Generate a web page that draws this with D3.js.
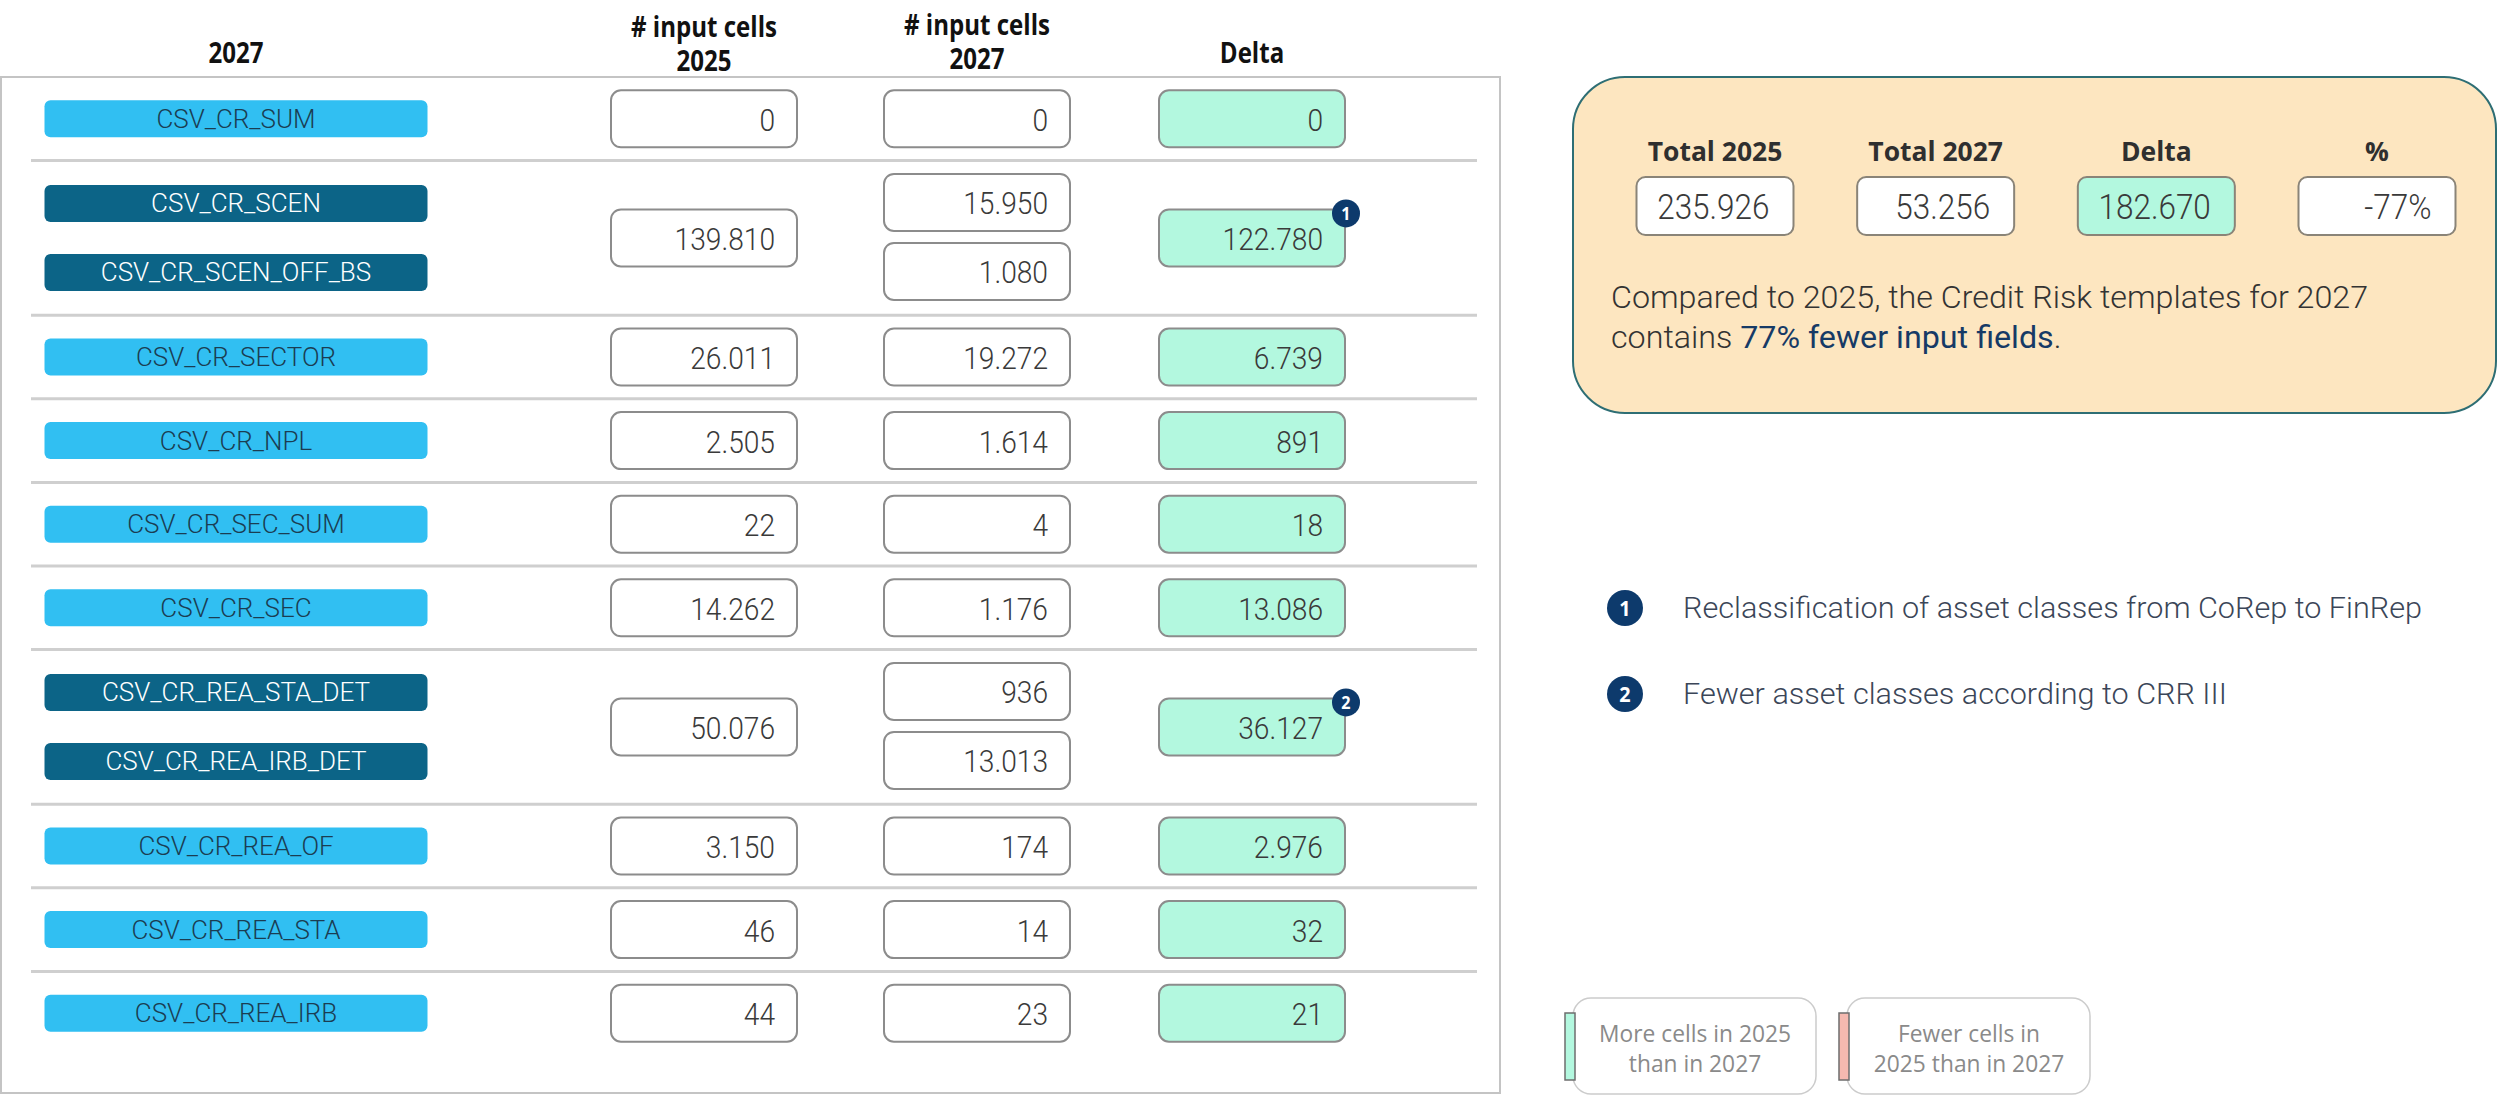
<!DOCTYPE html>
<html>
<head>
<meta charset="utf-8">
<script src="https://cdn.jsdelivr.net/npm/d3@7"></script>
<style>
  html, body { margin: 0; padding: 0; background: #ffffff; }
  svg { display: block; font-family: "Open Sans", "Noto Sans", sans-serif; }
  .light { font-family: Roboto, "Open Sans", sans-serif; }
</style>
</head>
<body>
<div id="chart"></div>
<script>
// templates of 2027, grouped by the 2025 template they replace
var templates2027 = [
    ["CSV_CR_SUM"],
    ["CSV_CR_SCEN", "CSV_CR_SCEN_OFF_BS"],
    ["CSV_CR_SECTOR"],
    ["CSV_CR_NPL"],
    ["CSV_CR_SEC_SUM"],
    ["CSV_CR_SEC"],
    ["CSV_CR_REA_STA_DET", "CSV_CR_REA_IRB_DET"],
    ["CSV_CR_REA_OF"],
    ["CSV_CR_REA_STA"],
    ["CSV_CR_REA_IRB"]
]
var cells2025 = [0, 139810, 26011, 2505, 22, 14262, 50076, 3150, 46, 44]
var cells2027 = [[0], [15950, 1080], [19272], [1614], [4], [1176], [936, 13013], [174], [14], [23]]

// footnote markers: row index -> note number
var footnoteRows = [1, 6]
var footnotes = ["Reclassification of asset classes from CoRep to FinRep",
    "Fewer asset classes according to CRR III"]

var columnHeads = [["2027"], ["# input cells", "2025"], ["# input cells", "2027"], ["Delta"]]
var totalHeads = ["Total 2025", "Total 2027", "Delta", "%"]
var legendLabels = [["More cells in 2025", "than in 2027"], ["Fewer cells in", "2025 than in 2027"]]

var width = 2500, height = 1095

var fmt = d3.formatLocale({decimal: ",", thousands: ".", grouping: [3], currency: ["", " €"], minus: "-"})
var num = fmt.format(",d"), pct = fmt.format(".0%")

var deltas = cells2025.map(function (v, i) { return v - d3.sum(cells2027[i]) })
var total2025 = d3.sum(cells2025)
var total2027 = d3.sum(cells2027, function (d) { return d3.sum(d) })
var totalDelta = total2025 - total2027
var totals = [num(total2025), num(total2027), num(totalDelta), pct(-totalDelta / total2025)]

// colours
var lightPill = "#31bff2", darkPill = "#0c6487", mint = "#b3f8df", salmon = "#f5b9b0", navy = "#0d3a6c"

// text styles (sx = horizontal squeeze to mimic the narrow original face)
var st = {
    head:   {size: 28, weight: 700, fill: "#111111", sx: 0.86},
    value:  {size: 32, weight: 300, fill: "#3a3a3a", sx: 0.88, light: true},
    pill:   {size: 26, weight: 300, fill: "#1b3d52", sx: 1.0, light: true},
    thead:  {size: 27, weight: 700, fill: "#2f2f2f", sx: 0.98},
    tvalue: {size: 35, weight: 300, fill: "#3a3a3a", sx: 0.9, light: true},
    para:   {size: 31, weight: 300, fill: "#333333", sx: 1.04, light: true},
    note:   {size: 30, weight: 300, fill: "#3b4658", sx: 1.02, light: true},
    legend: {size: 24, weight: 400, fill: "#8a8a8a", sx: 0.95},
    badge:  {size: 18, weight: 700, fill: "#ffffff", sx: 0.9}
}

function label(parent, x, y, str, s, anchor) {
    return parent.append("text")
        .attr("class", s.light ? "light" : null)
        .attr("transform", "translate(" + x + "," + y + ") scale(" + s.sx + ",1)")
        .attr("text-anchor", anchor || "middle")
        .style("font-size", s.size + "px")
        .style("font-weight", s.weight)
        .style("fill", s.fill)
        .text(str)
}

var svg = d3.select("#chart").append("svg")
    .attr("width", width)
    .attr("height", height)

svg.append("rect").attr("width", width).attr("height", height).attr("fill", "#ffffff")

// ---------- table ----------
var units = templates2027.map(function (d) { return d.length > 1 ? 1.85 : 1 })
var starts = units.map(function (u, i) { return d3.sum(units.slice(0, i)) })
var y = d3.scaleLinear().domain([0, d3.sum(units)]).range([77, 1055])
var x = d3.scaleOrdinal().domain(["name", "c2025", "c2027", "delta"]).range([236, 704, 977, 1252])
var sub = d3.scalePoint().domain([0, 1]).range([-34.5, 34.5])

var pillW = 383, pillH = 37, boxW = 186, boxH = 57

svg.append("rect")
    .attr("x", 1).attr("y", 77).attr("width", 1499).attr("height", 1016)
    .attr("fill", "none").attr("stroke", "#c4c4c4").attr("stroke-width", 2)

// column headers
columnHeads.forEach(function (lines, i) {
    var cx = x.range()[i]
    var base = lines.length > 1 ? (i === 1 ? 37 : 35) : 63
    lines.forEach(function (t, j) {
        label(svg, cx, base + j * 34, t, st.head)
    })
})

// row separators
svg.append("g").selectAll("line")
    .data(starts.slice(1))
    .enter().append("line")
    .attr("x1", 31).attr("x2", 1477)
    .attr("y1", function (d) { return y(d) })
    .attr("y2", function (d) { return y(d) })
    .attr("stroke", "#cfcfcf").attr("stroke-width", 3)

var rows = svg.append("g").selectAll("g.row")
    .data(templates2027)
    .enter().append("g")
    .attr("class", "row")
    .attr("transform", function (d, i) { return "translate(0," + y(starts[i] + units[i] / 2) + ")" })

function box(g, cx, cy, txt, fill) {
    g.append("rect")
        .attr("x", cx - boxW / 2).attr("y", cy - boxH / 2)
        .attr("width", boxW).attr("height", boxH)
        .attr("rx", 10)
        .attr("fill", fill).attr("stroke", "#8c8c8c").attr("stroke-width", 2)
    label(g, cx + boxW / 2 - 22, cy + 12, txt, st.value, "end")
}

rows.each(function (names, i) {
    var g = d3.select(this)
    var off = function (j) { return names.length > 1 ? sub(j) : 0 }

    names.forEach(function (n, j) {
        var dark = names.length > 1
        g.append("rect")
            .attr("x", x("name") - pillW / 2).attr("y", off(j) - pillH / 2)
            .attr("width", pillW).attr("height", pillH)
            .attr("rx", 6)
            .attr("fill", dark ? darkPill : lightPill)
        label(g, x("name"), off(j) + 9, n, dark ? Object.assign({}, st.pill, {fill: "#ffffff"}) : st.pill)
    })

    box(g, x("c2025"), 0, num(cells2025[i]), "#ffffff")
    cells2027[i].forEach(function (v, j) {
        box(g, x("c2027"), cells2027[i].length > 1 ? sub(j) - 1 : 0, num(v), "#ffffff")
    })
    box(g, x("delta"), 0, num(deltas[i]), deltas[i] >= 0 ? mint : salmon)

    var fn = footnoteRows.indexOf(i)
    if (fn >= 0) {
        var bx = x("delta") + boxW / 2 + 1, by = -boxH / 2 + 4
        g.append("circle").attr("cx", bx).attr("cy", by).attr("r", 14).attr("fill", navy)
        label(g, bx, by + 6.5, String(fn + 1), st.badge)
    }
})

// ---------- summary card ----------
var card = svg.append("g")
card.append("rect")
    .attr("x", 1573).attr("y", 77).attr("width", 923).attr("height", 336)
    .attr("rx", 52)
    .attr("fill", "#fde6c0").attr("stroke", "#2e6e74").attr("stroke-width", 2)

var tx = d3.scalePoint().domain(totalHeads).range([1715, 2377])
var tBoxW = 157, tBoxH = 58
totalHeads.forEach(function (h, i) {
    var cx = tx(h)
    label(card, cx, 161, h, st.thead)
    card.append("rect")
        .attr("x", cx - tBoxW / 2).attr("y", 177)
        .attr("width", tBoxW).attr("height", tBoxH)
        .attr("rx", 9)
        .attr("fill", h === "Delta" ? mint : "#ffffff")
        .attr("stroke", "#8a8478").attr("stroke-width", 2)
    label(card, cx + tBoxW / 2 - 24, 219, totals[i], st.tvalue, "end")
})

label(card, 1611, 308, "Compared to 2025, the Credit Risk templates for 2027", st.para, "start")
var p2 = label(card, 1611, 348, "", st.para, "start")
p2.append("tspan").text("contains ")
p2.append("tspan").style("fill", "#163a66").style("font-weight", 400)
    .text(pct(totalDelta / total2025).replace("-", "") + " fewer input fields")
p2.append("tspan").text(".")

// ---------- footnotes ----------
var notes = svg.append("g")
footnotes.forEach(function (t, i) {
    var cy = 608 + i * 86
    notes.append("circle").attr("cx", 1625).attr("cy", cy).attr("r", 18).attr("fill", navy)
    label(notes, 1625, cy + 8, String(i + 1), Object.assign({}, st.badge, {size: 22}))
    label(notes, 1683, cy + 10, t, st.note, "start")
})

// ---------- legend ----------
var legend = svg.append("g")
var legendX = d3.scalePoint().domain([0, 1]).range([1573, 1847])
legendLabels.forEach(function (lines, i) {
    var lx = legendX(i)
    legend.append("rect")
        .attr("x", lx).attr("y", 998).attr("width", 243).attr("height", 96)
        .attr("rx", 18)
        .attr("fill", "#ffffff").attr("stroke", "#cccccc").attr("stroke-width", 1.5)
    legend.append("rect")
        .attr("x", lx - 8).attr("y", 1013).attr("width", 10).attr("height", 67)
        .attr("fill", i === 0 ? mint : salmon).attr("stroke", "#6e6e6e").attr("stroke-width", 1.5)
    lines.forEach(function (t, j) {
        label(legend, lx + 122, 1042 + j * 30, t, st.legend)
    })
})
</script>
</body>
</html>
